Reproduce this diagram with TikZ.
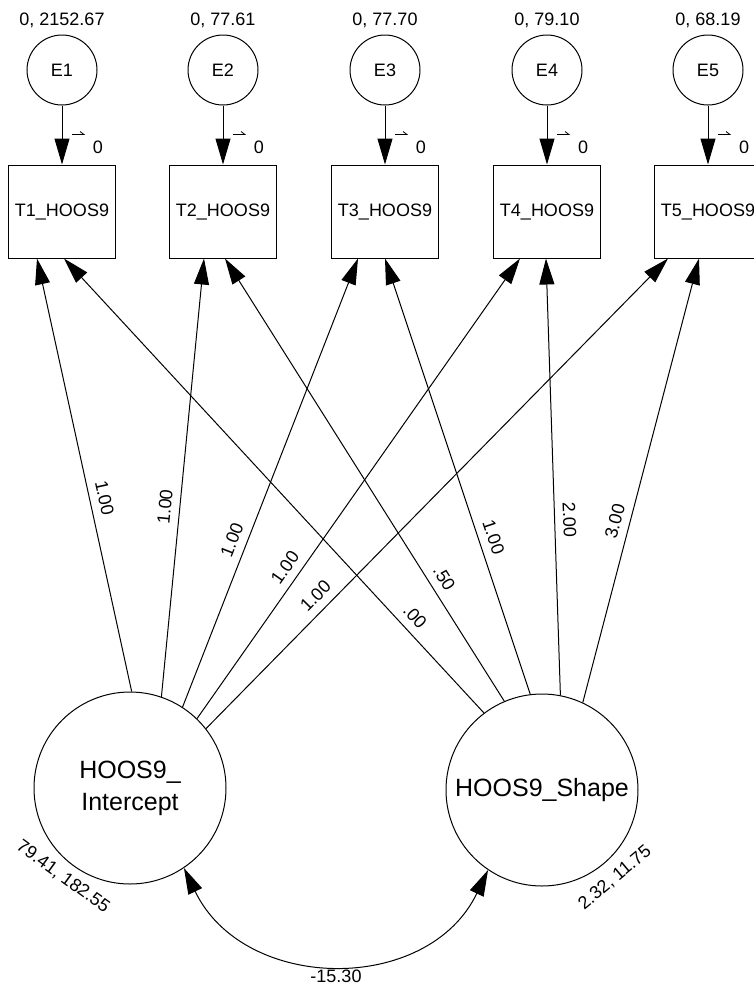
\documentclass[tikz,border=0pt]{standalone}
\usepackage{fontspec}
\setmainfont{Liberation Sans}
\usetikzlibrary{arrows.meta, positioning, calc}

\tikzset{
    errnode/.style = {circle, draw, minimum size = 70pt, inner sep = 0pt, font = \fontsize{18}{21}\selectfont},
    obsnode/.style = {rectangle, draw, minimum width = 107pt, minimum height = 93pt, inner sep = 0pt, font = \fontsize{18}{21}\selectfont},
    latnode/.style = {circle, draw, minimum size = 192pt, inner sep = 0pt, align = center, font = \fontsize{25}{32}\selectfont},
    lbl/.style = {inner sep = 2pt, font = \fontsize{18}{21}\selectfont},
    wlbl/.style = {lbl, sloped, above = 6pt},
    regpath/.style = {-{Triangle[length = 26pt, width = 15pt]}},
    covpath/.style = {{Triangle[length = 26pt, width = 15pt]}-{Triangle[length = 26pt, width = 15pt]}}
}

\begin{document}
\begin{tikzpicture}[x = 1pt, y = -1pt, line width = 1pt]
    \useasboundingbox (0, 0) rectangle (753, 986);

    % error terms and observed scores
    \foreach \i/\x/\v in {1/62/2152.67, 2/223/77.61, 3/385/77.70, 4/547/79.10, 5/708/68.19}
    {
        \node (e\i) [errnode] at (\x, 70) {E\i};
        \node (v\i) [lbl, above = 4pt of e\i] {0, \v};
        \node (t\i) [obsnode] at (\x, 211.5) {T\i\_HOOS9};
        \draw [regpath] (e\i) -- (t\i);
        \node (m\i) [lbl] at ([shift = {(36, -17)}] t\i.north) {0};
        \draw [line width = 0.8pt] ([shift = {(10, -30)}] t\i.north) -- ++(12, 0) -- ++(-4, -3);
    }

    % growth factors
    \node (intercept) [latnode] at (130, 788) {HOOS9\_\\Intercept};
    \node (shape) [latnode] at (542, 790) {HOOS9\_Shape};

    \node (vi) [lbl, rotate = -36] at (63, 877) {79.41, 182.55};
    \node (vs) [lbl, rotate = 40] at (615, 878) {2.32, 11.75};

    % loadings
    \foreach \i/\ia/\ix/\ip/\sa/\sx/\sp/\w in {1/89/-25/.44/127/2/.19/.00, 2/71/-19/.43/113/2/.26/.50, 3/57/-27/.36/97/0/.35/1.00, 4/46/-27/.31/79/-1/.40/2.00, 5/38/-40/.26/65/-9/.40/3.00}
    {
        \draw [regpath] (intercept.\ia) -- ([xshift = \ix pt] t\i.south) node [wlbl, pos = \ip] {1.00};
        \draw [regpath] (shape.\sa) -- ([xshift = \sx pt] t\i.south) node [wlbl, pos = \sp] {\w};
    }

    % covariance
    \draw [covpath] (intercept.-56) .. controls +(60, 125) and +(-60, 125) .. (shape.-124) node [lbl, below = 5pt, pos = 0.5] {-15.30};
\end{tikzpicture}
\end{document}
